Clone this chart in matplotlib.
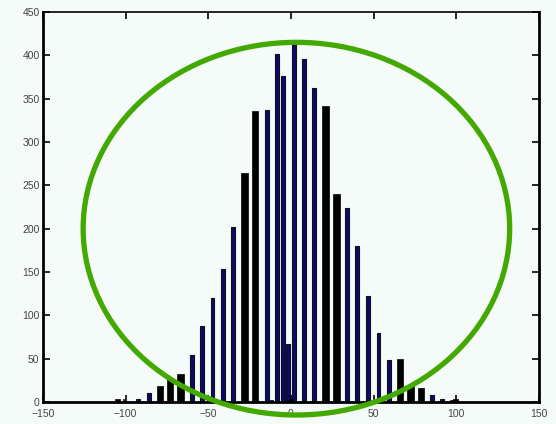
"""Histogram with green ellipse highlight."""

import matplotlib

matplotlib.use("Agg")
import matplotlib.pyplot as plt
from matplotlib.patches import Ellipse

# wide black bars
black_x = [-105, -101, -79.2, -73.2, -66.7, -28.2, -21.8, -11.7, -0.2, 21.0, 27.6, 49.6, 65.9, 72.4, 78.6, 97.2, 99.4]
black_h = [3, 4, 18, 26, 32, 264, 336, 2, 3, 342, 240, 2, 50, 20, 16.5, 2, 4]
black_w = [3, 0.6, 4, 4, 4, 4, 4, 2, 2, 4, 4, 1, 4, 4, 4, 2, 3]

# narrow navy bars
blue_x = [-92.4, -85.9, -59.7, -53.6, -47.4, -41.3, -34.9, -14.7, -8.6, -4.7, -2.0,
          1.8, 8.0, 14.1, 34.1, 40.1, 46.8, 53.0, 59.3, 85.3, 91.5]
blue_h = [4, 10, 54, 88, 120, 154, 202, 337, 401, 376, 67,
          413, 396, 362, 224, 180, 122, 80, 48.5, 8, 4]

xticks = [-150, -100, -50, 0, 50, 100, 150]
yticks = [0, 50, 100, 150, 200, 250, 300, 350, 400, 450]

bg = "#f5fbf8"
plt.rcParams["font.family"] = ["Liberation Sans", "DejaVu Sans"]

fig = plt.figure(figsize=(5.56, 4.24), dpi=100, facecolor=bg)
ax = fig.add_axes([0.0773, 0.0519, 0.892, 0.9198], facecolor=bg)

ax.bar(blue_x, blue_h, width=2.3, color="#0a0a70", edgecolor="#111111", linewidth=0.8)
ax.bar(black_x, black_h, width=black_w, color="black", edgecolor="black", linewidth=0.5)

ax.set_xlim(-150, 150)
ax.set_ylim(0, 450)
ax.set_xticks(xticks)
ax.set_yticks(yticks)
ax.tick_params(direction="in", length=5, width=1.2, top=True, right=True,
               labelsize=7.5, labelcolor="#444444")
ax.tick_params(axis="x", pad=5)
ax.tick_params(axis="y", pad=2.5)
for side in ["left", "bottom", "right"]:
    ax.spines[side].set_linewidth(2)
ax.spines["top"].set_linewidth(1.2)

ax.add_patch(Ellipse((3.3, 200), 258, 430, fill=False, edgecolor="#43a800",
                     linewidth=3.8, clip_on=False, zorder=5))

fig.savefig("out.png", dpi=100, facecolor=bg)
